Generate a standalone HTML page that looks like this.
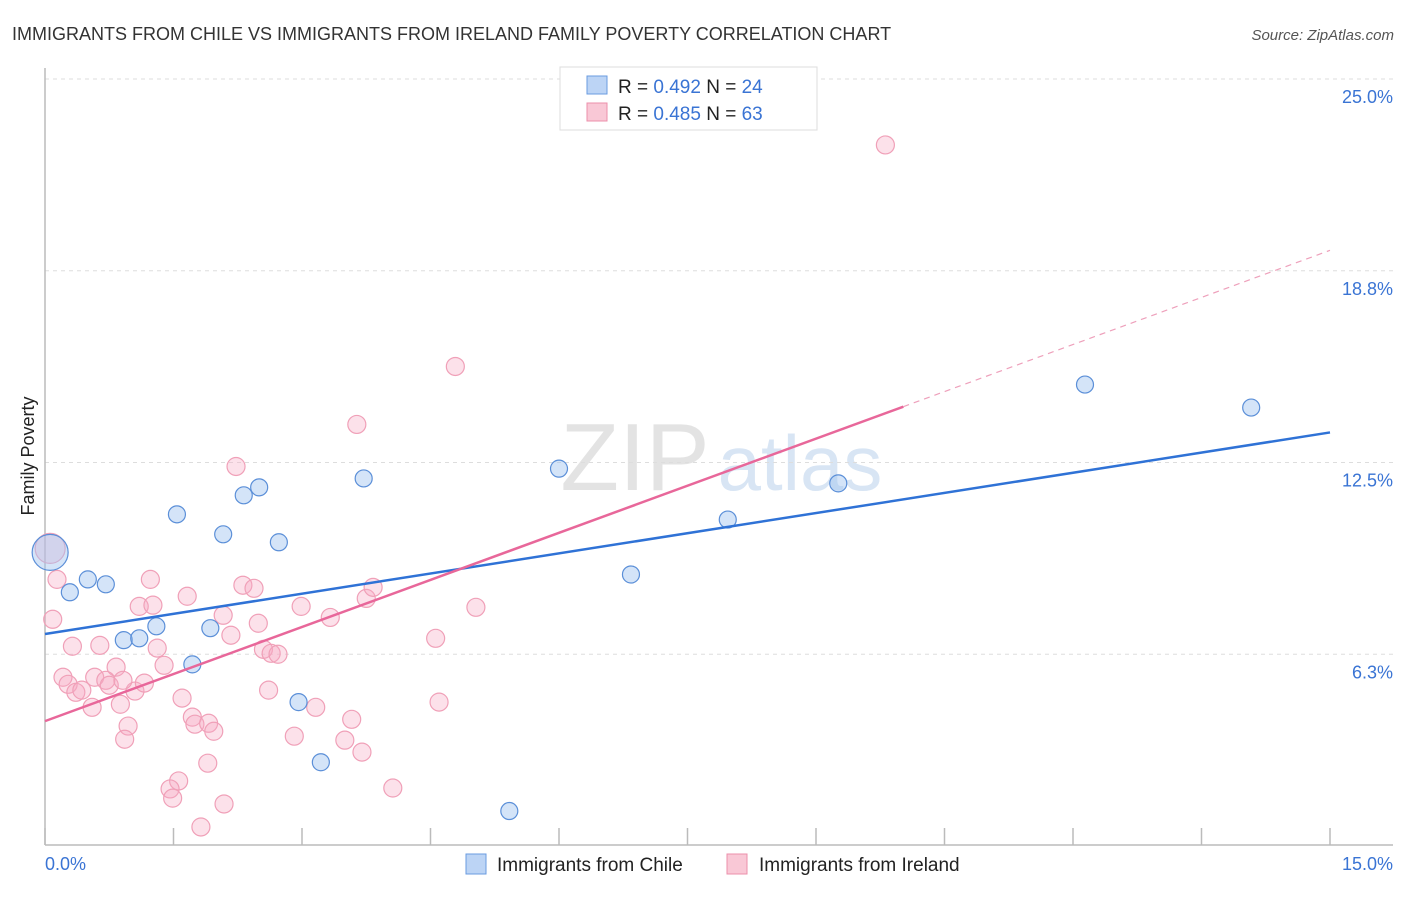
<!DOCTYPE html>
<html><head><meta charset="utf-8"><style>
body{margin:0;background:#fff;font-family:"Liberation Sans",sans-serif;}
svg text{font-family:"Liberation Sans",sans-serif;}
</style></head><body>
<svg width="1406" height="892" xmlns="http://www.w3.org/2000/svg">
<text x="12" y="40" font-size="18" fill="#333">IMMIGRANTS FROM CHILE VS IMMIGRANTS FROM IRELAND FAMILY POVERTY CORRELATION CHART</text>
<text x="1394" y="40" font-size="15" fill="#555" text-anchor="end" font-style="italic">Source: ZipAtlas.com</text>
<g><text x="635" y="490" font-size="96" fill="#ddd" font-family="Liberation Serif" text-anchor="middle" opacity="0.8">ZIP</text><text x="800" y="490" font-size="78" fill="#cfdff2" text-anchor="middle" opacity="0.8">atlas</text></g>
<g id="grid"></g>
<g id="axes"></g>
<g id="marks"></g>
<text transform="translate(34,456) rotate(-90)" font-size="18" fill="#222" text-anchor="middle">Family Poverty</text>
<g>
<rect x="560" y="67" width="257" height="63" fill="#fff" stroke="#ddd"/>
<rect x="587" y="76" width="20" height="18" fill="#bcd4f5" stroke="#6a9be0"/>
<rect x="587" y="103" width="20" height="18" fill="#f9c8d6" stroke="#ec8fab"/>
<text x="618" y="93" font-size="19" fill="#222">R = <tspan fill="#3a74d4">0.492</tspan>   N = <tspan fill="#3a74d4">24</tspan></text>
<text x="618" y="120" font-size="19" fill="#222">R = <tspan fill="#3a74d4">0.485</tspan>   N = <tspan fill="#3a74d4">63</tspan></text>
</g>
<g>
<rect x="466" y="854" width="20" height="20" fill="#bcd4f5" stroke="#6a9be0"/>
<text x="497" y="871" font-size="19" fill="#222">Immigrants from Chile</text>
<rect x="727" y="854" width="20" height="20" fill="#f9c8d6" stroke="#ec8fab"/>
<text x="759" y="871" font-size="19" fill="#222">Immigrants from Ireland</text>
</g>
</svg>
<script>
const yTicks=[25,18.75,12.5,6.25];
const yTickLabels=["25.0%","18.8%","12.5%","6.3%"];
const xTicks=[0,1.5,3,4.5,6,7.5,9,10.5,12,13.5,15];
const chileX=[0.06,0.29,0.50,0.71,0.92,1.10,1.30,1.54,1.72,1.93,2.08,2.32,2.50,2.73,2.96,3.22,3.72,5.42,6.00,6.84,7.97,9.26,12.14,14.08];
const chileY=[9.57,8.27,8.69,8.53,6.71,6.77,7.16,10.81,5.92,7.10,10.16,11.43,11.69,9.90,4.69,2.73,11.98,1.14,12.30,8.85,10.64,11.82,15.04,14.29];
const irelandX=[0.06,0.14,0.09,0.32,0.64,1.23,1.10,1.26,1.66,2.31,2.44,2.08,1.31,1.39,0.83,0.21,0.27,0.36,0.43,0.58,0.71,0.75,1.05,1.16,0.55,0.88,1.60,0.97,0.93,1.72,1.75,1.91,1.97,2.17,2.49,2.55,2.64,2.72,2.61,2.99,3.33,3.75,3.83,3.16,2.91,3.50,3.58,3.70,4.06,4.56,4.60,5.03,2.23,3.64,4.79,9.81,1.90,1.56,1.46,1.49,2.09,1.82,0.91];
const irelandY=[9.70,8.69,7.39,6.51,6.54,8.69,7.81,7.85,8.14,8.50,8.40,7.52,6.45,5.89,5.83,5.50,5.27,5.01,5.08,5.50,5.40,5.24,5.05,5.31,4.52,4.62,4.82,3.91,3.48,4.20,3.97,4.00,3.74,6.87,7.26,6.41,6.28,6.25,5.08,7.81,7.45,8.07,8.43,4.52,3.58,3.45,4.13,3.06,1.89,6.77,4.69,7.78,12.37,13.74,15.63,22.85,2.70,2.12,1.86,1.56,1.37,0.62,5.40];
const chileLine=[6.91,0.438];   // intercept, slope
const irelandLine=[4.07,1.023];
const irelandSolidEnd=10.02;
const NS="http://www.w3.org/2000/svg";
const sx=v=>45+v/15*1285;
const sy=v=>846-v/25*767;
function mk(t,a,p){const e=document.createElementNS(NS,t);for(const k in a)e.setAttribute(k,a[k]);document.getElementById(p).appendChild(e);return e;}
yTicks.forEach((t,i)=>{
 const l=mk('line',{x1:45,x2:1393,y1:sy(t),y2:sy(t),stroke:'#ddd','stroke-dasharray':'4,4'},'grid');
 
 
 const tx=mk('text',{x:1393,y:sy(t)+24,'font-size':18,fill:'#3a74d4','text-anchor':'end'},'grid');
 tx.textContent=yTickLabels[i];
 
 
});
const ax=mk('line',{x1:45,x2:1393,y1:845,y2:845,stroke:'#bbb','stroke-width':1.5},'axes');


const ay=mk('line',{x1:45,x2:45,y1:68,y2:845,stroke:'#bbb','stroke-width':1.5},'axes');


xTicks.forEach(t=>{const l=mk('line',{x1:sx(t),x2:sx(t),y1:828,y2:845,stroke:'#bbb','stroke-width':1.5},'axes');
 
 });
const x0=mk('text',{x:45,y:870,'font-size':18,fill:'#3a74d4'},'axes');x0.textContent='0.0%';


const x1=mk('text',{x:1393,y:870,'font-size':18,fill:'#3a74d4','text-anchor':'end'},'axes');x1.textContent='15.0%';


irelandX.forEach((x,i)=>{const c=mk('circle',{cx:sx(x),cy:sy(irelandY[i]),r:i===0?15:9,fill:'rgba(246,170,195,0.35)',stroke:'#f0a0b8','stroke-width':1.2},'marks');
 
 });
chileX.forEach((x,i)=>{const c=mk('circle',{cx:sx(x),cy:sy(chileY[i]),r:i===0?18:8.5,fill:'rgba(160,195,240,0.45)',stroke:'#5b8fd8','stroke-width':1.2},'marks');
 
 });
const bl=mk('line',{x1:sx(0),y1:sy(chileLine[0]),x2:sx(15),y2:sy(chileLine[0]+chileLine[1]*15),stroke:'#2f72d6','stroke-width':2.5},'marks');


const pl=mk('line',{x1:sx(0),y1:sy(irelandLine[0]),x2:sx(irelandSolidEnd),y2:sy(irelandLine[0]+irelandLine[1]*irelandSolidEnd),stroke:'#e8679a','stroke-width':2.5},'marks');


const pd=mk('line',{x1:sx(irelandSolidEnd),y1:sy(irelandLine[0]+irelandLine[1]*irelandSolidEnd),x2:sx(15),y2:sy(irelandLine[0]+irelandLine[1]*15),stroke:'#eea0bb','stroke-width':1.2,'stroke-dasharray':'6,5'},'marks');


</script>
</body></html>
